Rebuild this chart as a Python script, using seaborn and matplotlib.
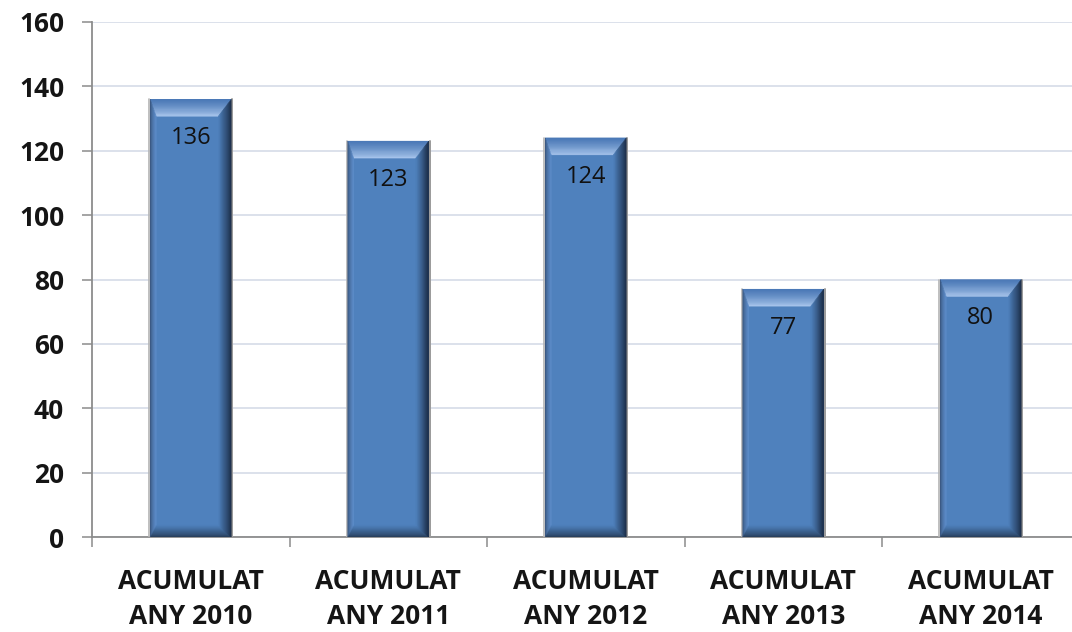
import matplotlib
matplotlib.use("Agg")
import matplotlib.pyplot as plt
from matplotlib.patches import Polygon
from matplotlib.colors import to_rgb
import seaborn as sns
import pandas as pd
import numpy as np

categories = ["ACUMULAT\nANY 2010", "ACUMULAT\nANY 2011", "ACUMULAT\nANY 2012",
              "ACUMULAT\nANY 2013", "ACUMULAT\nANY 2014"]
values = [136, 123, 124, 77, 80]
y_ticks = [0, 20, 40, 60, 80, 100, 120, 140, 160]

df = pd.DataFrame({"cat": categories, "val": values})

sns.set_theme(style="white")
plt.rcParams["font.family"] = ["Open Sans", "DejaVu Sans"]

W, H, DPI = 1072, 632, 100
fig = plt.figure(figsize=(W / DPI, H / DPI), dpi=DPI)
ax = fig.add_axes([92 / W, 1 - 537 / H, (1079.5 - 92) / W, (537 - 22) / H])

BAR = "#4F81BD"
sns.barplot(data=df, x="cat", y="val", color=BAR, width=0.41, ax=ax,
            saturation=1, edgecolor="none", zorder=3)

ax.set_ylim(0, 160)
ax.set_xlim(-0.5, len(categories) - 0.5)
ax.set_yticks(y_ticks)
ax.set_yticklabels([str(t) for t in y_ticks])
ax.set_xlabel("")
ax.set_ylabel("")

# grid
ax.yaxis.grid(True, color="#D9DEE9", linewidth=1.3, zorder=0)
ax.xaxis.grid(False)
ax.set_axisbelow(True)

for s in ["top", "right"]:
    ax.spines[s].set_visible(False)
for s in ["left", "bottom"]:
    ax.spines[s].set_color("#8C8C8C")
    ax.spines[s].set_linewidth(1.3)

txtcol = "#151515"
ax.tick_params(axis="y", which="major", direction="out", length=7, width=1.1,
               color="#8C8C8C", pad=13, labelsize=19, labelcolor=txtcol, left=True)
for lbl in ax.get_yticklabels():
    lbl.set_fontweight("bold")

# x: labels at centers (no tick), tick marks at boundaries (minor)
ax.tick_params(axis="x", which="major", length=0, pad=22, labelsize=19,
               labelcolor=txtcol)
for lbl in ax.get_xticklabels():
    lbl.set_fontweight("bold")
    lbl.set_linespacing(1.42)
ax.set_xticks(np.arange(-0.5, len(categories) + 0.5, 1.0), minor=True)
ax.tick_params(axis="x", which="minor", direction="out", length=7, width=1.1,
               color="#8C8C8C", bottom=True)

# bevel decoration derived from the bar patches
fig.canvas.draw()
to_data = ax.transData.inverted()
px_x = abs(to_data.transform((100, 0))[0] - to_data.transform((0, 0))[0]) / 100
px_y = abs(to_data.transform((0, 100))[1] - to_data.transform((0, 0))[1]) / 100


def lerp(c1, c2, t):
    a = np.array(to_rgb(c1)); b = np.array(to_rgb(c2))
    return tuple(a + (b - a) * t)


K = 14
for p, v in zip(ax.patches, values):
    x0 = p.get_x(); w = p.get_width(); y0 = p.get_y(); h = p.get_height()
    x1 = x0 + w; y1 = y0 + h
    bt = 17 * px_y   # top bevel
    br = 13 * px_x   # right bevel
    bl = 6 * px_x    # left bevel
    bb = 12 * px_y   # bottom bevel

    def rect(t):
        return (x0 + t * bl, y0 + t * bb, x1 - t * br, y1 - t * bt)

    for i in range(K):
        t0 = i / K; t1 = (i + 1) / K; tm = (i + 0.5) / K
        L0, B0, R0, T0 = rect(t0)
        L1, B1, R1, T1 = rect(t1)
        sides = [
            ([(L0, T0), (R0, T0), (R1, T1), (L1, T1)], lerp("#4A78B6", "#A9C6EC", tm ** 1.3)),
            ([(L0, B0), (R0, B0), (R1, B1), (L1, B1)], lerp("#22364F", BAR, tm ** 0.8)),
            ([(R0, T0), (R0, B0), (R1, B1), (R1, T1)], lerp("#16243A", BAR, tm ** 0.9)),
            ([(L0, T0), (L0, B0), (L1, B1), (L1, T1)], lerp("#2E4566", "#5C8CC9", tm ** 0.5)),
        ]
        for pts, col in sides:
            ax.add_patch(Polygon(pts, closed=True, facecolor=col, edgecolor=col,
                                 lw=0.3, zorder=4))
    # faint grey shadow outline
    ax.plot([x0 - 1.2 * px_x] * 2, [y0, y1], color="#B4B4B4", lw=1.2, zorder=2.9)
    ax.plot([x1 + 1.2 * px_x] * 2, [y0, y1], color="#9A9A9A", lw=1.4, zorder=2.9)
    ax.annotate(str(v), xy=(x0 + w / 2, y1), xytext=(0, -28),
                textcoords="offset points", ha="center", va="center",
                fontsize=17, color="#111111", zorder=6)

fig.savefig("out.png", dpi=DPI)
